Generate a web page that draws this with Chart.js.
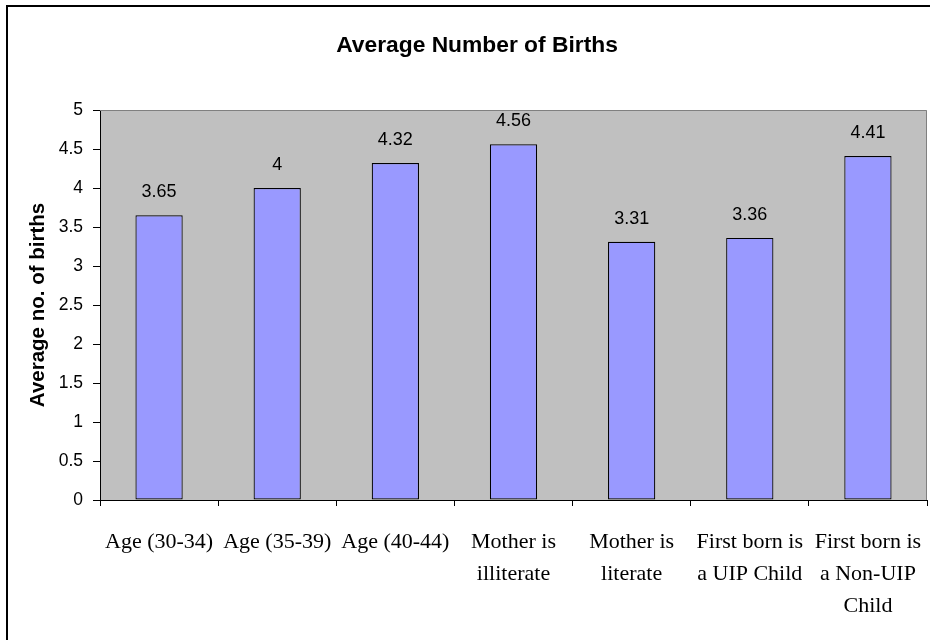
<!DOCTYPE html>
<html>
<head>
<meta charset="utf-8">
<script src="https://cdn.jsdelivr.net/npm/chart.js@4/dist/chart.umd.min.js"></script>
<style>
  html, body { margin: 0; padding: 0; background: #ffffff; }
  #wrap { position: relative; width: 930px; height: 640px; overflow: hidden; }
  #frame { position: absolute; left: 6px; top: 5px; width: 940px; height: 660px; border: 2px solid #000; box-sizing: border-box; pointer-events: none; }
  canvas { position: absolute; left: 0; top: 0; }
</style>
</head>
<body>
<div id="wrap">
  <canvas id="c" width="930" height="640"></canvas>
  <div id="frame"></div>
</div>
<script>
const chartTitle = "Average Number of Births";
const yAxisTitle = "Average no. of births";
const categories = [
  ["Age (30-34)"],
  ["Age (35-39)"],
  ["Age (40-44)"],
  ["Mother is", "illiterate"],
  ["Mother is", "literate"],
  ["First born is", "a UIP Child"],
  ["First born is", "a Non-UIP", "Child"]
];
const values = [3.65, 4, 4.32, 4.56, 3.31, 3.36, 4.41];
const valueLabels = ["3.65", "4", "4.32", "4.56", "3.31", "3.36", "4.41"];
const yMin = 0, yMax = 5, yStep = 0.5;

const plotBg = {
  id: 'plotBg',
  beforeDraw(chart) {
    const {ctx, chartArea: a} = chart;
    ctx.save();
    ctx.fillStyle = '#C0C0C0';
    ctx.fillRect(a.left, a.top, a.right - a.left, a.bottom - a.top);
    ctx.restore();
  },
  afterDatasetsDraw(chart) {
    const {ctx, chartArea: a} = chart;
    ctx.save();
    ctx.strokeStyle = '#808080';
    ctx.lineWidth = 1;
    ctx.beginPath();
    ctx.moveTo(a.left, a.top + 0.5);
    ctx.lineTo(a.right - 0.5, a.top + 0.5);
    ctx.lineTo(a.right - 0.5, a.bottom);
    ctx.stroke();
    ctx.restore();
  }
};

const titlePlugin = {
  id: 'centeredTitle',
  afterDraw(chart) {
    const {ctx} = chart;
    ctx.save();
    ctx.fillStyle = '#000';
    ctx.font = 'bold 22.8px "Liberation Sans", Arial, sans-serif';
    ctx.textAlign = 'center';
    ctx.textBaseline = 'middle';
    ctx.fillText(chartTitle, 477, 46);
    ctx.restore();
  }
};

const valueLabelPlugin = {
  id: 'valueLabels',
  afterDatasetsDraw(chart) {
    const {ctx} = chart;
    const meta = chart.getDatasetMeta(0);
    ctx.save();
    ctx.fillStyle = '#000';
    ctx.font = '18px "Liberation Sans", Arial, sans-serif';
    ctx.textAlign = 'center';
    ctx.textBaseline = 'middle';
    meta.data.forEach((bar, i) => {
      ctx.fillText(valueLabels[i], bar.x, bar.y - 23);
    });
    ctx.restore();
  }
};

new Chart(document.getElementById('c'), {
  type: 'bar',
  data: {
    labels: categories,
    datasets: [{
      data: values,
      backgroundColor: '#9999FF',
      borderColor: '#000000',
      borderWidth: 1.2,
      borderSkipped: false,
      categoryPercentage: 0.4,
      barPercentage: 1.0
    }]
  },
  options: {
    responsive: false,
    animation: false,
    devicePixelRatio: 1,
    layout: { padding: { left: 7, right: 3, top: 110, bottom: 0 } },
    plugins: {
      legend: { display: false },
      tooltip: { enabled: false },
      title: { display: false }
    },
    scales: {
      x: {
        grid: { display: true, offset: true, drawOnChartArea: false, drawTicks: true, tickLength: 6, color: '#000', lineWidth: 1 },
        border: { display: true, color: '#000', width: 1 },
        ticks: {
          color: '#000',
          padding: 20,
          maxRotation: 0,
          autoSkip: false,
          font: { family: '"Liberation Serif", "Times New Roman", serif', size: 22, lineHeight: '32px' }
        },
        afterFit(scale) { scale.height = 140; scale.paddingLeft = 0; scale.paddingRight = 0; }
      },
      y: {
        min: yMin,
        max: yMax,
        grid: { display: true, drawOnChartArea: false, drawTicks: true, tickLength: 7, color: '#000', lineWidth: 1 },
        border: { display: true, color: '#000', width: 1 },
        ticks: {
          stepSize: yStep,
          color: '#000',
          padding: 10,
          font: { family: '"Liberation Sans", Arial, sans-serif', size: 17.5 },
          callback: (v) => String(v)
        },
        title: {
          display: true,
          text: yAxisTitle,
          color: '#000',
          font: { family: '"Liberation Sans", Arial, sans-serif', size: 20.5, weight: 'bold', lineHeight: 1.2 },
          padding: { top: 19, bottom: 0 }
        },
        afterFit(scale) { scale.width = 93; }
      }
    }
  },
  plugins: [plotBg, valueLabelPlugin, titlePlugin]
});
</script>
</body>
</html>
